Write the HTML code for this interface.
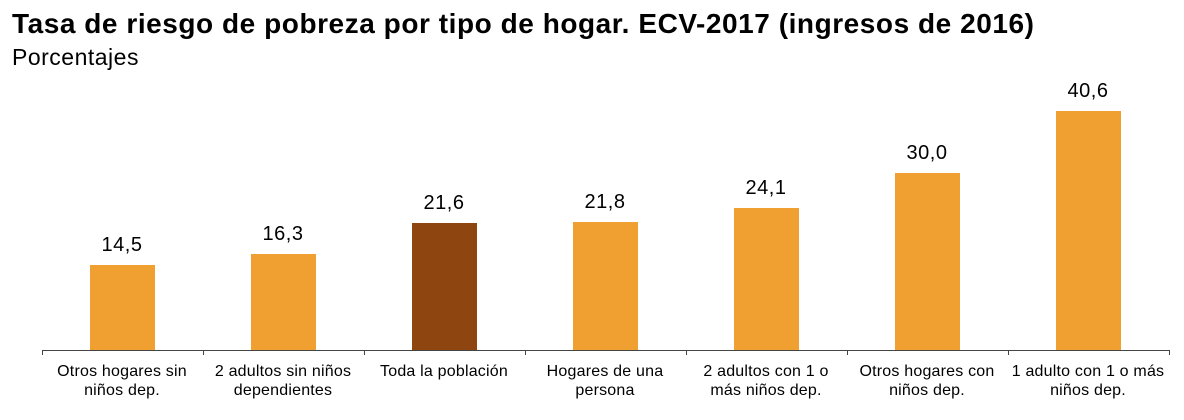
<!DOCTYPE html>
<html><head><meta charset="utf-8"><style>
body{margin:0;background:#fff;width:1184px;height:420px;overflow:hidden;font-family:"Liberation Sans",Arial,sans-serif;position:relative}
.t{position:absolute;left:12px;top:8px;font-size:28px;font-weight:bold;color:#000;white-space:nowrap;letter-spacing:0.55px}
.s{position:absolute;left:12px;top:44px;font-size:23px;color:#000;letter-spacing:0.5px}
.bar{position:absolute;width:65px;background:#F0A030;bottom:70px}
.v{position:absolute;width:160px;text-align:center;font-size:20px;color:#000;letter-spacing:0.5px}
.l{position:absolute;width:160px;text-align:center;font-size:16px;line-height:19px;top:362px;color:#000;letter-spacing:0.2px}
.ax{position:absolute;left:42px;top:350px;width:1128px;height:1px;background:#444}
.tk{position:absolute;top:350px;width:1px;height:5px;background:#444}
</style></head><body>
<div class="t">Tasa de riesgo de pobreza por tipo de hogar. ECV-2017 (ingresos de 2016)</div>
<div class="s">Porcentajes</div>
<div class="ax"></div>

<div class="bar" style="left:90px;height:85px"></div>
<div class="v" style="left:42px;top:234px">14,5</div>
<div class="l" style="left:42px">Otros hogares sin<br>niños dep.</div>
<div class="tk" style="left:42px"></div>

<div class="bar" style="left:251px;height:96px"></div>
<div class="v" style="left:203px;top:223px">16,3</div>
<div class="l" style="left:203px">2 adultos sin niños<br>dependientes</div>
<div class="tk" style="left:203px"></div>

<div class="bar" style="left:412px;height:127px;background:#8E4510"></div>
<div class="v" style="left:364px;top:192px">21,6</div>
<div class="l" style="left:364px">Toda la población</div>
<div class="tk" style="left:364px"></div>

<div class="bar" style="left:573px;height:128px"></div>
<div class="v" style="left:525px;top:191px">21,8</div>
<div class="l" style="left:525px">Hogares de una<br>persona</div>
<div class="tk" style="left:525px"></div>

<div class="bar" style="left:734px;height:142px"></div>
<div class="v" style="left:686px;top:177px">24,1</div>
<div class="l" style="left:686px">2 adultos con 1 o<br>más niños dep.</div>
<div class="tk" style="left:686px"></div>

<div class="bar" style="left:895px;height:177px"></div>
<div class="v" style="left:847px;top:142px">30,0</div>
<div class="l" style="left:847px">Otros hogares con<br>niños dep.</div>
<div class="tk" style="left:847px"></div>

<div class="bar" style="left:1056px;height:239px"></div>
<div class="v" style="left:1008px;top:80px">40,6</div>
<div class="l" style="left:1008px">1 adulto con 1 o más<br>niños dep.</div>
<div class="tk" style="left:1008px"></div>
<div class="tk" style="left:1169px"></div>
</body></html>
